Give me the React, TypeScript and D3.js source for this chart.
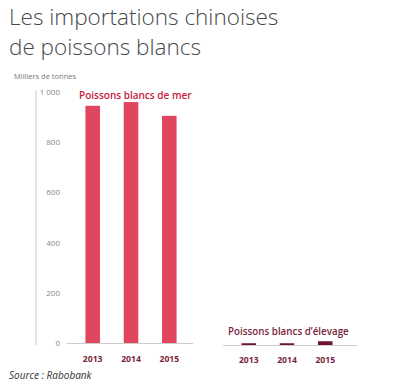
import React from "react";
import * as d3 from "d3";

const years = ["2013", "2014", "2015"];
const merValues = [945, 960, 905];
const elevageValues = [7, 7, 15];
const yTicks = [0, 200, 400, 600, 800, 1000];

export default function App() {
  const W = 400, H = 383;
  const y = d3.scaleLinear().domain([0, 1000]).range([343, 92]);
  const xL = d3.scaleBand().domain(years).range([72, 190]).paddingInner(0.62).paddingOuter(0.35);
  const xR = d3.scaleBand().domain(years).range([230, 344]).paddingInner(0.62).paddingOuter(0.3);
  const fmt = (v: number) => (v === 1000 ? "1 000" : String(v));
  const font = "'Open Sans', 'Noto Sans', sans-serif";
  return (
    <svg width={W} height={H} style={{ position: "absolute", left: 0, top: 0, background: "#fff" }}>
      <text x={9} y={25} fontFamily={font} fontWeight={300} fontSize={22.5} fill="#454a4d">Les importations chinoises</text>
      <text x={9} y={55} fontFamily={font} fontWeight={300} fontSize={22.5} fill="#454a4d">de poissons blancs</text>
      <text x={14} y={79} fontFamily={font} fontSize={7.5} fill="#777">Milliers de tonnes</text>
      <line x1={36} x2={36} y1={90} y2={345} stroke="#ccc" strokeWidth={1} />
      {yTicks.map((t) => (
        <text key={t} x={60} y={y(t) + 3} textAnchor="end" fontFamily={font} fontSize={8} fill="#888">{fmt(t)}</text>
      ))}
      <line x1={67} x2={193} y1={343.5} y2={343.5} stroke="#ccc" />
      <line x1={223} x2={357} y1={345.5} y2={345.5} stroke="#ccc" />
      {years.map((yr, i) => (
        <rect key={"m" + yr} x={xL(yr)} width={xL.bandwidth()} y={y(merValues[i])} height={y(0) - y(merValues[i])} fill="#e0475f" />
      ))}
      {years.map((yr, i) => {
        const top = y(elevageValues[i]) + 2;
        return <rect key={"e" + yr} x={xR(yr)} width={xR.bandwidth()} y={top} height={345 - top} fill="#6e1535" />;
      })}
      <text x={79} y={99} fontFamily={font} fontWeight={600} fontSize={10} fill="#c8193c">Poissons blancs de mer</text>
      <text x={228} y={335} fontFamily={font} fontWeight={600} fontSize={9.8} fill="#7a1f3d">Poissons blancs d’élevage</text>
      {years.map((yr) => (
        <text key={"lx" + yr} x={(xL(yr) ?? 0) + xL.bandwidth() / 2} y={362} textAnchor="middle" fontFamily={font} fontWeight={700} fontSize={8.6} fill="#7a1f3d">{yr}</text>
      ))}
      {years.map((yr) => (
        <text key={"rx" + yr} x={(xR(yr) ?? 0) + xR.bandwidth() / 2} y={363} textAnchor="middle" fontFamily={font} fontWeight={700} fontSize={8.6} fill="#7a1f3d">{yr}</text>
      ))}
      <text x={9} y={379} fontFamily={font} fontStyle="italic" fontSize={10} fill="#333">Source : Rabobank</text>
    </svg>
  );
}
